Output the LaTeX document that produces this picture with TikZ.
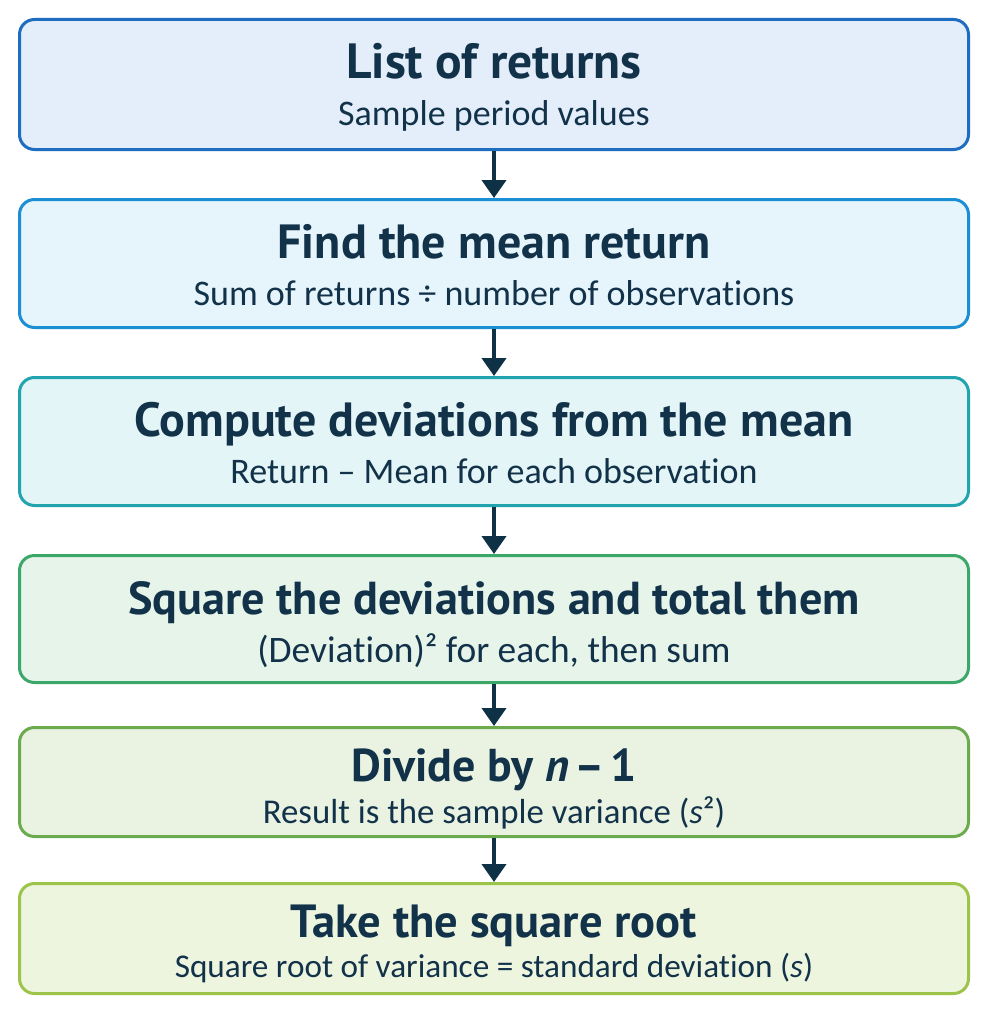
\documentclass[tikz,border=0pt]{standalone}
\usepackage{fontspec}
\setmainfont{PT Sans}
\newfontfamily\subfont[RawFeature={-liga;-dlig;-clig;-calt}]{Carlito}
\usetikzlibrary{arrows.meta}
\definecolor{txt}{HTML}{12324A}
\definecolor{arrc}{HTML}{0F3146}
\definecolor{bA}{HTML}{1E6DC0}\definecolor{fA}{HTML}{E3EEFA}
\definecolor{bB}{HTML}{1C8FD4}\definecolor{fB}{HTML}{E6F4FC}
\definecolor{bC}{HTML}{22A4AE}\definecolor{fC}{HTML}{E4F5F7}
\definecolor{bD}{HTML}{3BA86A}\definecolor{fD}{HTML}{E7F4EA}
\definecolor{bE}{HTML}{6BAA4D}\definecolor{fE}{HTML}{EAF3E2}
\definecolor{bF}{HTML}{9CC449}\definecolor{fF}{HTML}{EEF5DE}
\begin{document}
\begin{tikzpicture}[x=1pt,y=-1pt,
  box/.style={line width=3pt, rounded corners=15pt, minimum width=949pt, inner sep=0pt},
  ttl/.style={anchor=base, text=txt, font=\fontsize{48}{52}\selectfont\bfseries, inner sep=0pt},
  sub/.style={anchor=base, text=txt, font=\subfont\fontsize{36}{40}\selectfont, inner sep=0pt},
  arr/.style={draw=arrc, line width=4pt, -{Triangle[width=24pt,length=18pt]}}]
\useasboundingbox (0,0) rectangle (989,1014);
\fill[white] (0,0) rectangle (989,1014);
\node[box, draw=bA, fill=fA, minimum height=130pt] (b1) at (494,84.5) {};
\node[box, draw=bB, fill=fB, minimum height=128pt] (b2) at (494,263.5) {};
\node[box, draw=bC, fill=fC, minimum height=128pt] (b3) at (494,441.5) {};
\node[box, draw=bD, fill=fD, minimum height=127pt] (b4) at (494,619) {};
\node[box, draw=bE, fill=fE, minimum height=109pt] (b5) at (494,782) {};
\node[box, draw=bF, fill=fF, minimum height=110pt] (b6) at (494,938.5) {};
\draw[arr] (b1.south) -- (b2.north);
\draw[arr] (b2.south) -- (b3.north);
\draw[arr] (b3.south) -- (b4.north);
\draw[arr] (b4.south) -- (b5.north);
\draw[arr] (b5.south) -- (b6.north);
\node[ttl, font=\fontsize{49.5}{52}\selectfont\bfseries] (t1) at (494,79) {List of returns};
\node[sub] (s1) at (494,125) {Sample period values};
\node[ttl] (t2) at (494,258) {Find the mean return};
\node[sub] (s2) at (494,305) {Sum of returns ÷ number of observations};
\node[ttl] (t3) at (494,436) {Compute deviations from the mean};
\node[sub] (s3) at (494,483) {Return – Mean for each observation};
\node[ttl, font=\fontsize{46.2}{52}\selectfont\bfseries] (t4) at (494,614) {Square the deviations and total them};
\node[sub, font=\subfont\fontsize{37.4}{40}\selectfont] (s4) at (494,662) {(Deviation)² for each, then sum};
\node[ttl, font=\fontsize{46}{52}\selectfont\bfseries] (t5) at (494,781) {Divide by \textit{n}\hspace{0.12em}–\hspace{0.12em}1};
\node[sub, font=\subfont\fontsize{34.8}{40}\selectfont] (s5) at (494,823) {Result is the sample variance (\textit{s}²)};
\node[ttl, font=\fontsize{46.5}{52}\selectfont\bfseries] (t6) at (494,937) {Take the square root};
\node[sub, font=\subfont\fontsize{33.2}{40}\selectfont] (s6) at (494,977) {Square root of variance = standard deviation (\textit{s})};
\end{tikzpicture}
\end{document}
